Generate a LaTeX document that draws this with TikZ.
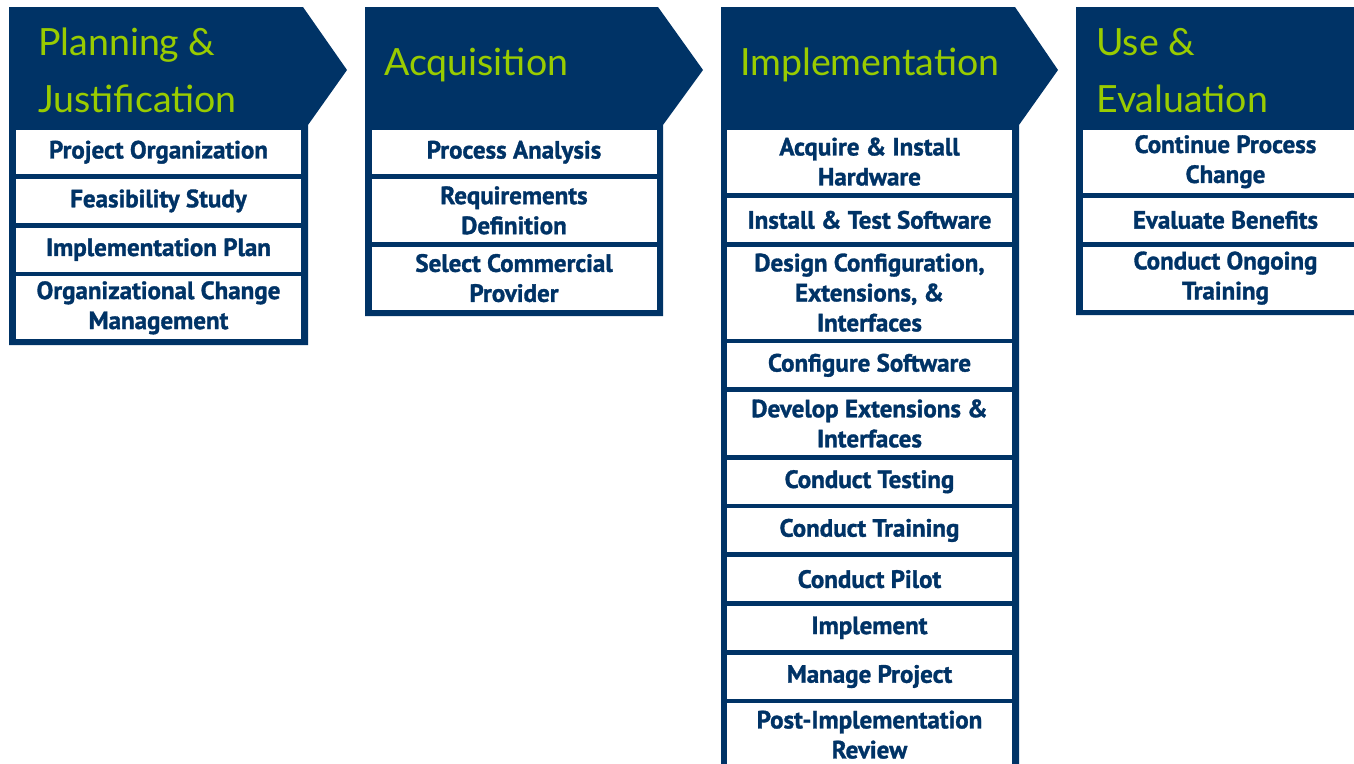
\documentclass[tikz,border=0pt]{standalone}
\usepackage{fontspec}
\setmainfont{PT Sans}[BoldFeatures={FakeBold=1.3}]
\newfontfamily\headfont{Lato}
\usetikzlibrary{positioning}
\definecolor{navy}{RGB}{0,51,102}
\definecolor{lime}{RGB}{153,204,0}
\tikzset{
  phase/.style={fill=navy},
  title/.style={anchor=base west, inner sep=0pt, text=lime, font=\headfont\fontsize{37.5}{38}\selectfont},
  task/.style={fill=white, text=navy, minimum width=285pt, inner sep=0pt, align=center, font=\bfseries\fontsize{25}{30}\selectfont},
  one/.style={minimum height=44pt},
  two/.style={minimum height=63pt},
  three/.style={minimum height=92pt},
}
\begin{document}
\begin{tikzpicture}[x=1pt, y=-1pt, node distance=4.3pt]
\useasboundingbox (0,0) rectangle (1354,763);
% phase arrows with their bodies
\fill[phase] (9,7) -- (303,7) -- (347,70) -- (308,125) -- (308,345) -- (9,345) -- cycle;
\fill[phase] (365,7) -- (658,7) -- (703,70) -- (663,125) -- (663,316) -- (365,316) -- cycle;
\fill[phase] (721,7) -- (1015,7) -- (1058,70) -- (1019,125) -- (1019,780) -- (721,780) -- cycle;
\fill[phase] (1076,7) -- (1370,7) -- (1414,70) -- (1375,125) -- (1375,315) -- (1076,315) -- cycle;
% titles
\node[title] (plan1) at (38,55) {Planning \&};
\node[title] (plan2) at (38,112) {Justification};
\node[title] (acq) at (384,75) {Acquisition};
\node[title] (impl) at (740,75) {Implementation};
\node[title] (use1) at (1096,55) {Use \&};
\node[title] (use2) at (1096,112) {Evaluation};
% planning & justification
\node[task, one, anchor=north] (po) at (158.5,130) {Project Organization};
\node[task, one, below=of po] (fs) {Feasibility Study};
\node[task, one, below=of fs] (ip) {Implementation Plan};
\node[task, two, below=of ip] (ocm) {Organizational Change\\Management};
% acquisition
\node[task, one, anchor=north] (pa) at (514,130) {Process Analysis};
\node[task, two, below=of pa] (rd) {Requirements\\Definition};
\node[task, two, below=of rd] (scp) {Select Commercial\\Provider};
% implementation
\node[task, two, anchor=north] (aih) at (869.5,130) {Acquire \& Install\\Hardware};
\node[task, one, below=of aih] (its) {Install \& Test Software};
\node[task, three, below=of its] (dce) {Design Configuration,\\Extensions, \&\\Interfaces};
\node[task, one, below=of dce] (cs) {Configure Software};
\node[task, two, below=of cs] (dei) {Develop Extensions \&\\Interfaces};
\node[task, one, below=of dei] (cte) {Conduct Testing};
\node[task, one, below=of cte] (ctr) {Conduct Training};
\node[task, one, below=of ctr] (cp) {Conduct Pilot};
\node[task, one, below=of cp] (imp) {Implement};
\node[task, one, below=of imp] (mp) {Manage Project};
\node[task, two, below=of mp] (pir) {Post-Implementation\\Review};
% use & evaluation
\node[task, two, anchor=north] (cpc) at (1225.5,130) {Continue Process\\Change};
\node[task, one, below=of cpc] (eb) {Evaluate Benefits};
\node[task, two, below=of eb] (cot) {Conduct Ongoing\\Training};
\end{tikzpicture}
\end{document}
